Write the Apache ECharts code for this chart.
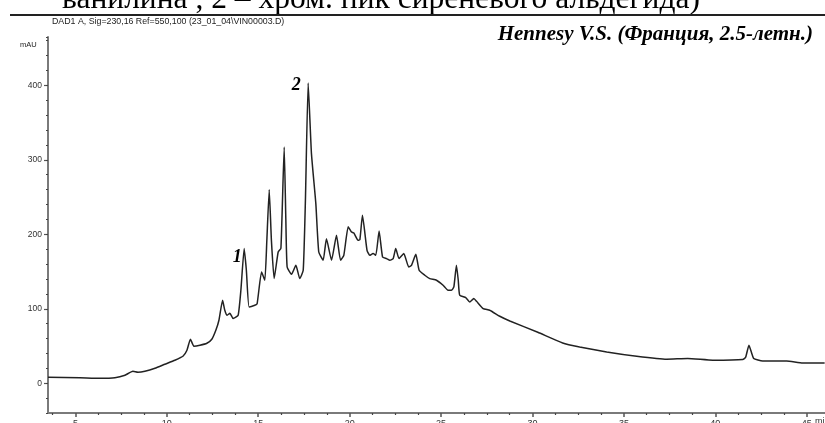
<!DOCTYPE html>
<html>
<head>
<meta charset="utf-8">
<script src="https://cdn.jsdelivr.net/npm/echarts@6/dist/echarts.min.js"></script>
<style>
html,body{margin:0;padding:0;background:#fff;}
#chart{width:825px;height:423px;}
</style>
</head>
<body>
<div id="chart"></div>
<script>
// Retention time (min)
const times = [3.50,5.25,6.34,7.16,7.71,8.14,8.42,8.80,9.35,9.89,10.44,10.88,11.10,11.29,11.48,11.81,12.19,12.46,12.68,12.85,
13.05,13.17,13.30,13.45,13.63,13.90,14.05,14.23,14.35,14.50,14.81,14.94,15.18,15.36,15.47,15.60,15.72,15.87,16.09,16.24,
16.42,16.51,16.58,16.82,17.06,17.27,17.46,17.58,17.73,17.91,18.15,18.31,18.55,18.73,19.01,19.28,19.50,19.68,19.92,20.10,
20.23,20.46,20.56,20.70,20.95,21.10,21.28,21.43,21.61,21.80,22.02,22.20,22.38,22.52,22.70,22.96,23.23,23.38,23.62,23.80,
24.11,24.38,24.75,25.11,25.38,25.57,25.70,25.84,25.94,26.02,26.35,26.57,26.79,26.94,27.30,27.66,28.21,28.76,30.29,31.65,
32.58,34.06,35.70,37.34,38.49,39.86,41.50,41.66,41.84,42.10,42.59,43.90,44.78,45.98];
// Absorbance (mAU)
const absorbance = [8.1,7.4,6.7,7.4,10.7,16.1,14.8,16.1,20.1,25.5,30.9,36.2,44.3,59.1,49.7,51.0,53.7,59.1,71.1,84.6,
111.4,98.0,91.3,94.0,86.8,91.3,124.8,180.8,151.7,102.4,104.7,107.0,149.4,138.3,191.9,260.0,191.9,140.5,176.2,181.2,
317.2,218.8,156.1,146.3,158.4,140.5,151.7,245.6,403.1,308.3,241.2,176.2,165.1,194.2,165.1,198.7,165.1,171.8,210.1,203.1,
201.7,191.9,192.9,225.5,178.5,171.8,174.1,171.8,204.4,169.5,167.4,165.1,167.4,180.8,167.4,174.1,156.1,158.4,173.2,151.7,
145.0,140.5,138.3,131.5,124.8,124.8,129.3,158.4,138.3,118.1,115.0,109.1,113.7,110.1,100.3,98.0,89.9,83.6,68.5,54.1,
48.7,42.0,36.2,32.2,33.2,30.9,31.8,34.9,51.0,33.2,29.9,29.9,27.2,27.2];
const xTickLabels = [5,10,15,20,25,30,35,40,45];
const yTickLabels = [0,100,200,300,400];
const peakLabels = [
  {name:'1', t:14.23, v:180.8},
  {name:'2', t:17.73, v:403.1}
];
const xMin = 3.5, xMax = 46, yMin = -40, yMax = 465;

const xMinor = [];
for (let k = 0; k < 40; k++) { const v = 3.75 + k * 1.25; if (v < xMax && xTickLabels.indexOf(v) < 0) xMinor.push(v); }

const axisGray = '#7a7a7a';
const peakFont = {fontStyle:'italic',fontWeight:'bold',fontSize:18,fontFamily:'Liberation Serif',color:'#000'};
const chart = echarts.init(document.getElementById('chart'), null, {renderer:'canvas'});
chart.setOption({
  animation:false,
  backgroundColor:'#fff',
  grid:{left:48,right:0,top:37,bottom:10,containLabel:false,outerBoundsMode:'none'},
  xAxis:[{
    type:'value',min:xMin,max:xMax,
    axisLine:{show:true,onZero:false,lineStyle:{color:axisGray,width:2}},
    axisTick:{show:true,inside:false,length:4,customValues:xTickLabels,lineStyle:{color:'#555',width:1.5}},
    axisLabel:{show:true,customValues:xTickLabels,margin:6,fontSize:9,fontFamily:'Liberation Sans',color:'#333',hideOverlap:false},
    splitLine:{show:false}
  },{
    type:'value',min:xMin,max:xMax,position:'bottom',
    axisLine:{show:false,onZero:false},
    axisTick:{show:true,length:2,customValues:xMinor,lineStyle:{color:'#444',width:1.2}},
    axisLabel:{show:false},
    splitLine:{show:false}
  }],
  yAxis:[{
    type:'value',min:yMin,max:yMax,
    axisLine:{show:true,onZero:false,lineStyle:{color:axisGray,width:2}},
    axisTick:{show:true,length:4,customValues:yTickLabels,lineStyle:{color:'#555',width:1.2}},
    axisLabel:{show:true,customValues:yTickLabels,margin:6,fontSize:8.5,fontFamily:'Liberation Sans',color:'#333'},
    splitLine:{show:false}
  },{
    type:'value',min:yMin,max:yMax,interval:20,position:'left',
    axisLine:{show:false,onZero:false},
    axisTick:{show:true,length:2,lineStyle:{color:'#444',width:1.2}},
    axisLabel:{show:false},
    splitLine:{show:false}
  }],
  graphic:[
    {type:'text',left:62,top:-16,style:{text:'ванилина , 2 – хром. пик сиреневого альдегида)',font:'31.5px "Liberation Serif"',fill:'#000'}},
    {type:'rect',shape:{x:10,y:14,width:815,height:2},style:{fill:'#222'}},
    {type:'text',left:52,top:17,style:{text:'DAD1 A, Sig=230,16 Ref=550,100 (23_01_04\\VIN00003.D)',font:'8.8px "Liberation Sans"',fill:'#222'}},
    {type:'text',left:20,top:41,style:{text:'mAU',font:'7.5px "Liberation Sans"',fill:'#222'}},
    {type:'text',right:12,top:24,style:{text:'Hennesy V.S. (Франция, 2.5-летн.)',font:'italic bold 21px "Liberation Serif"',fill:'#000'}},
    {type:'text',left:815,top:417,style:{text:'min',font:'9px "Liberation Sans"',fill:'#333'}}
  ],
  series:[{
    type:'line',
    xAxisIndex:0,yAxisIndex:0,
    data:times.map((t,i)=>[t,absorbance[i]]),
    showSymbol:false,
    smooth:0.15,
    lineStyle:{color:'#222',width:1.5},
    markPoint:{
      symbol:'circle',symbolSize:0,
      label:Object.assign({show:true,formatter:p=>p.name},peakFont),
      data:[
        {name:peakLabels[0].name,coord:[peakLabels[0].t,peakLabels[0].v],label:{offset:[-7,9]}},
        {name:peakLabels[1].name,coord:[peakLabels[1].t,peakLabels[1].v],label:{offset:[-12,2]}}
      ]
    }
  }]
});
</script>
</body>
</html>
